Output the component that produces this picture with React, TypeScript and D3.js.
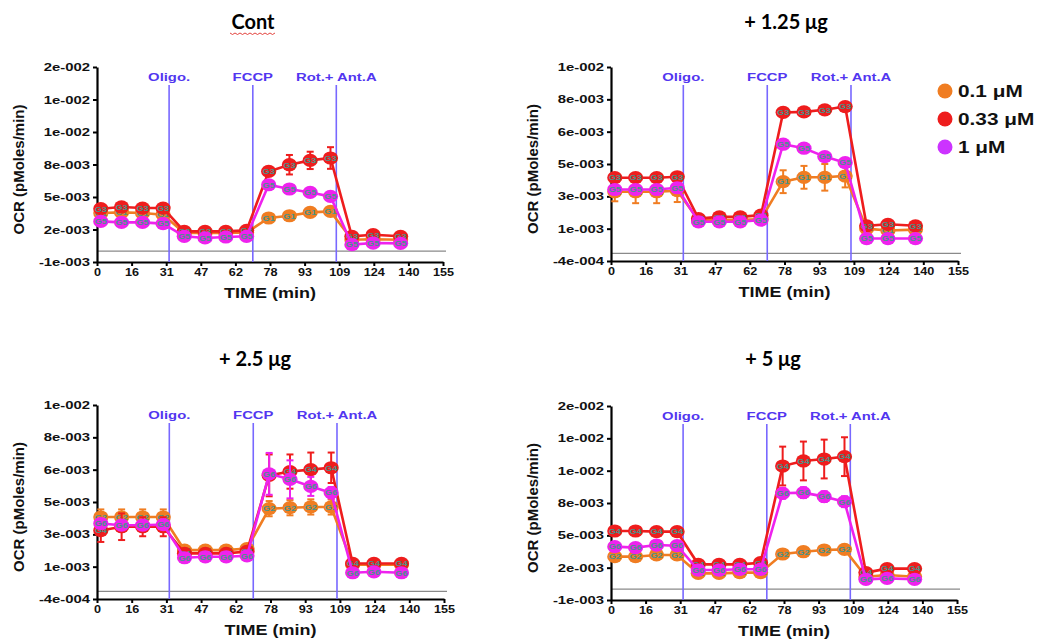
import * as d3 from 'd3'
import { useEffect, useRef } from 'react'

// measurement times (min), same for every panel
const times = [1.7, 11, 20.4, 29.6, 39.1, 48.4, 57.7, 67, 76.9, 86.2, 95.5, 104.6, 114.2, 123.7, 136]
const xTickLabels = ['0', '16', '31', '47', '62', '78', '93', '109', '124', '140', '155']
const injectionNames = ['Oligo.', 'FCCP', 'Rot.+ Ant.A']
const injectionTimes = [32.3, 69.8, 107.2]

const seriesNames = ['0.1 μM', '0.33 μM', '1 μM']
const seriesColors = ['#f07d22', '#ee1d1d', '#ee22ee']
const legendColors = ['#f07d22', '#ee1d1d', '#cc33ff']

const titles = ['Cont', '+ 1.25 μg', '+ 2.5 μg', '+ 5 μg']
const groupTags = [['G1', 'G3', 'G5'], ['G1', 'G3', 'G5'], ['G2', 'G4', 'G6'], ['G2', 'G4', 'G6']]

// y axes (the labels are what the software printed, not nice numbers)
const yMins = [-0.001, -0.0004, -0.0004, -0.001]
const ySteps = [0.003, 0.0017, 0.0017, 0.003]
const yTickLabelsA = ['-1e-003', '2e-003', '5e-003', '8e-003', '1e-002', '1e-002', '2e-002']
const yTickLabelsB = ['-4e-004', '1e-003', '3e-003', '5e-003', '6e-003', '8e-003', '1e-002']
const yTickLabels = [yTickLabelsA, yTickLabelsB, yTickLabelsB, yTickLabelsA]

// Cont
const contLow = [0.00352, 0.00358, 0.00352, 0.00337, 0.00168, 0.00168, 0.00168, 0.00172, 0.00306, 0.00327, 0.00358, 0.00367, 0.00106, 0.0011, 0.00106]
const contLowErr = [0.0002, 0.0002, 0.0002, 0.0002, 0.0001, 0.0001, 0.0001, 0.0001, 0.0002, 0.0002, 0.0002, 0.0002, 0.0001, 0.0001, 0.0001]
const contMid = [0.00392, 0.00408, 0.00398, 0.00398, 0.00183, 0.00183, 0.00183, 0.00192, 0.00736, 0.00798, 0.00838, 0.0086, 0.00137, 0.00152, 0.00137]
const contMidErr = [0.0002, 0.0002, 0.0002, 0.0002, 0.0001, 0.0001, 0.0001, 0.0001, 0.0003, 0.0009, 0.0008, 0.001, 0.0001, 0.0001, 0.0001]
const contHigh = [0.00275, 0.00266, 0.00266, 0.00254, 0.00137, 0.00122, 0.00131, 0.00137, 0.00613, 0.00574, 0.00542, 0.00506, 0.0006, 0.00075, 0.00072]
const contHighErr = [0.0002, 0.0002, 0.0002, 0.0002, 0.0001, 0.0001, 0.0001, 0.0001, 0.0002, 0.0002, 0.0002, 0.0002, 0.0001, 0.0001, 0.0001]

// + 1.25 ug
const p125Low = [0.00324, 0.00324, 0.00324, 0.0033, 0.00175, 0.00175, 0.00175, 0.0018, 0.00377, 0.004, 0.004, 0.00407, 0.0013, 0.0012, 0.00125]
const p125LowErr = [0.0005, 0.0006, 0.0006, 0.0006, 0.0001, 0.0001, 0.0001, 0.0001, 0.0006, 0.0006, 0.0007, 0.0006, 0.0001, 0.0001, 0.0001]
const p125Mid = [0.00398, 0.00398, 0.00398, 0.00403, 0.00183, 0.00192, 0.00192, 0.00201, 0.00741, 0.00744, 0.00755, 0.00772, 0.00145, 0.00153, 0.00145]
const p125MidErr = [0.0001, 0.0001, 0.0001, 0.0001, 0.0001, 0.0001, 0.0001, 0.0001, 0.0002, 0.0001, 0.0002, 0.0002, 0.0001, 0.0001, 0.0001]
const p125High = [0.00336, 0.00336, 0.00336, 0.00345, 0.00166, 0.00166, 0.00166, 0.00175, 0.00574, 0.00553, 0.00509, 0.00477, 0.00078, 0.00078, 0.00078]
const p125HighErr = [0.0002, 0.0002, 0.0002, 0.0002, 0.0001, 0.0001, 0.0001, 0.0001, 0.0002, 0.0001, 0.0001, 0.0001, 0.0001, 0.0001, 0.0001]

// + 2.5 ug
const p25Low = [0.00391, 0.00391, 0.00391, 0.00391, 0.00217, 0.00217, 0.00217, 0.00225, 0.00435, 0.0044, 0.00444, 0.00444, 0.0014, 0.0014, 0.0014]
const p25LowErr = [0.0004, 0.0004, 0.0004, 0.0004, 0.0001, 0.0001, 0.0001, 0.0001, 0.0004, 0.0004, 0.0004, 0.0004, 0.0001, 0.0001, 0.0001]
const p25Mid = [0.0032, 0.0034, 0.0034, 0.0034, 0.002, 0.002, 0.002, 0.0021, 0.0061, 0.0063, 0.0064, 0.0065, 0.00147, 0.00147, 0.00147]
const p25MidErr = [0.0006, 0.0007, 0.0005, 0.0005, 0.0001, 0.0001, 0.0001, 0.0001, 0.0011, 0.0009, 0.0009, 0.0008, 0.0001, 0.0001, 0.0001]
const p25High = [0.00357, 0.00348, 0.00348, 0.00351, 0.00177, 0.00182, 0.00182, 0.00187, 0.00618, 0.00589, 0.00552, 0.00519, 0.00098, 0.00103, 0.00098]
const p25HighErr = [0.0002, 0.0002, 0.0002, 0.0002, 0.0001, 0.0001, 0.0001, 0.0001, 0.0011, 0.001, 0.0005, 0.0003, 0.0001, 0.0001, 0.0001]

// + 5 ug
const p5Low = [0.00302, 0.00302, 0.00318, 0.00318, 0.00147, 0.00147, 0.00154, 0.00154, 0.00327, 0.00348, 0.00364, 0.0037, 0.00116, 0.00132, 0.00116]
const p5LowErr = [0.0004, 0.0004, 0.0004, 0.0004, 0.0001, 0.0001, 0.0001, 0.0001, 0.0002, 0.0002, 0.0002, 0.0002, 0.0001, 0.0001, 0.0001]
const p5Mid = [0.0054, 0.0054, 0.00534, 0.00534, 0.00231, 0.00231, 0.00231, 0.00246, 0.01143, 0.0119, 0.01208, 0.0123, 0.00154, 0.00191, 0.00191]
const p5MidErr = [0.0002, 0.0002, 0.0002, 0.0002, 0.0001, 0.0001, 0.0001, 0.0001, 0.0018, 0.0018, 0.0018, 0.0018, 0.0001, 0.0001, 0.0001]
const p5High = [0.00395, 0.00386, 0.0041, 0.00404, 0.00178, 0.00178, 0.00185, 0.00185, 0.0089, 0.00896, 0.00859, 0.00812, 0.00092, 0.00101, 0.00092]
const p5HighErr = [0.0002, 0.0002, 0.0002, 0.0002, 0.0001, 0.0001, 0.0001, 0.0001, 0.0005, 0.0005, 0.0005, 0.0005, 0.0001, 0.0001, 0.0001]

const panelValues = [
  [contLow, contMid, contHigh],
  [p125Low, p125Mid, p125High],
  [p25Low, p25Mid, p25High],
  [p5Low, p5Mid, p5High],
]
const panelErrors = [
  [contLowErr, contMidErr, contHighErr],
  [p125LowErr, p125MidErr, p125HighErr],
  [p25LowErr, p25MidErr, p25HighErr],
  [p5LowErr, p5MidErr, p5HighErr],
]

// where each panel sits on the page
const layout = [
  { left: 97, right: 443, top: 67, bottom: 262, titleX: 253, titleY: 29 },
  { left: 611, right: 958, top: 67, bottom: 261, titleX: 786, titleY: 29 },
  { left: 97, right: 444, top: 405, bottom: 599, titleX: 255, titleY: 366 },
  { left: 611, right: 957, top: 406, bottom: 600, titleX: 773, titleY: 366 },
]

const ARIAL = '"Liberation Sans", Arial, sans-serif'

export default function App() {
  const ref = useRef<SVGSVGElement>(null)

  useEffect(() => {
    const svg = d3.select(ref.current)
    svg.selectAll('*').remove()

    layout.forEach((L, p) => {
      const g = svg.append('g')
      const x = d3.scaleLinear().domain([0, 155]).range([L.left, L.right])
      const yTicks = d3.range(7).map((i) => yMins[p] + i * ySteps[p])
      const y = d3.scaleLinear().domain([yTicks[0], yTicks[6]]).range([L.bottom, L.top])

      // title
      g.append('text')
        .attr('x', L.titleX).attr('y', L.titleY)
        .attr('text-anchor', 'middle')
        .style('font-family', 'Lato, "Open Sans", sans-serif')
        .style('font-weight', 'bold').style('font-size', '20px')
        .text(titles[p])
      if (p === 0) {
        // spell-check squiggle under "Cont"
        const pts: [number, number][] = d3.range(0, 46, 2.5).map((d, i) => [L.titleX - 23 + d, L.titleY + 4 + (i % 2 ? 1.5 : 0)])
        g.append('path').attr('d', d3.line()(pts)).attr('fill', 'none').attr('stroke', '#e0302a').attr('stroke-width', 0.9)
      }

      // zero line
      g.append('line')
        .attr('x1', x(0)).attr('x2', x(155) + 3)
        .attr('y1', y(0)).attr('y2', y(0))
        .attr('stroke', '#8a8a8a').attr('stroke-width', 1.3)

      // axes
      const yAxis = g.append('g')
        .attr('transform', `translate(${L.left},0)`)
        .call(d3.axisLeft(y).tickValues(yTicks).tickFormat((_d, i) => yTickLabels[p][i]).tickSize(4).tickPadding(3).tickSizeOuter(0))
      const xAxis = g.append('g')
        .attr('transform', `translate(0,${L.bottom})`)
        .call(d3.axisBottom(x).tickValues(d3.range(11).map((i) => i * 15.5)).tickFormat((_d, i) => xTickLabels[i]).tickSize(4).tickPadding(2).tickSizeOuter(0))
      ;[yAxis, xAxis].forEach((a) => {
        a.select('.domain').attr('stroke', '#000').attr('stroke-width', 2.2)
        a.selectAll('.tick line').attr('stroke', '#000').attr('stroke-width', 2)
        a.selectAll('.tick text')
          .attr('fill', '#111')
          .style('font-family', ARIAL).style('font-weight', 'bold').style('font-size', '11px')
      })
      yAxis.selectAll('.tick text').attr('x', -7 / 1.35).attr('transform', 'scale(1.35,1)')
      xAxis.selectAll('.tick text').attr('transform', 'scale(1.15,1)')

      g.append('text')
        .attr('transform', `translate(${(L.left + L.right) / 2},${L.bottom + 36}) scale(1.2,1)`)
        .attr('text-anchor', 'middle')
        .style('font-family', ARIAL).style('font-weight', 'bold').style('font-size', '15px')
        .attr('fill', '#111')
        .text('TIME (min)')
      g.append('text')
        .attr('transform', `translate(${L.left - 73},${(L.top + L.bottom) / 2 + 5}) rotate(-90)`)
        .attr('text-anchor', 'middle')
        .style('font-family', ARIAL).style('font-weight', 'bold').style('font-size', '15px')
        .attr('fill', '#111')
        .text('OCR (pMoles/min)')

      // injection markers
      injectionTimes.forEach((t, i) => {
        g.append('line')
          .attr('x1', x(t)).attr('x2', x(t))
          .attr('y1', L.top + 18).attr('y2', L.bottom)
          .attr('stroke', '#7868ff').attr('stroke-width', 1.6)
        g.append('text')
          .attr('transform', `translate(${x(t)},${L.top + 14}) scale(1.35,1)`)
          .attr('text-anchor', 'middle')
          .style('font-family', ARIAL).style('font-weight', 'bold').style('font-size', '11px')
          .attr('fill', '#5236f0')
          .text(injectionNames[i])
      })

      // series
      const line = d3.line<number>().x((_d, i) => x(times[i])).y((d) => y(d))
      panelValues[p].forEach((vals, s) => {
        const col = seriesColors[s]
        const errs = panelErrors[p][s]
        const sg = g.append('g')
        sg.append('path').attr('d', line(vals)).attr('fill', 'none').attr('stroke', col).attr('stroke-width', 2.6)
        const eb = sg.selectAll('.eb').data(vals).join('g').attr('class', 'eb')
        eb.append('line')
          .attr('x1', (_d, i) => x(times[i])).attr('x2', (_d, i) => x(times[i]))
          .attr('y1', (d, i) => y(d - errs[i])).attr('y2', (d, i) => y(d + errs[i]))
          .attr('stroke', col).attr('stroke-width', 2)
        ;[-1, 1].forEach((sign) => {
          eb.append('line')
            .attr('x1', (_d, i) => x(times[i]) - 3.5).attr('x2', (_d, i) => x(times[i]) + 3.5)
            .attr('y1', (d, i) => y(d + sign * errs[i])).attr('y2', (d, i) => y(d + sign * errs[i]))
            .attr('stroke', col).attr('stroke-width', 2)
        })
        sg.selectAll('ellipse').data(vals).join('ellipse')
          .attr('cx', (_d, i) => x(times[i])).attr('cy', (d) => y(d))
          .attr('rx', 7.6).attr('ry', 6.6)
          .attr('fill', col)
        sg.selectAll('.tag').data(vals).join('text').attr('class', 'tag')
          .attr('transform', (d, i) => `translate(${x(times[i])},${y(d) + 2.8}) scale(1.15,1)`)
          .attr('text-anchor', 'middle')
          .style('font-family', ARIAL).style('font-weight', 'bold').style('font-size', '8px')
          .attr('fill', '#46928a')
          .text(groupTags[p][s])
      })
    })

    // legend (right of the second panel)
    const lg = svg.append('g')
    seriesNames.forEach((name, i) => {
      const cy = 91 + i * 28
      lg.append('circle').attr('cx', 945).attr('cy', cy).attr('r', 7.5).attr('fill', legendColors[i])
      lg.append('text')
        .attr('transform', `translate(958,${cy + 6}) scale(1.3,1)`)
        .style('font-family', ARIAL).style('font-weight', 'bold').style('font-size', '16px')
        .attr('fill', '#111')
        .text(name)
    })
  }, [])

  return (
    <svg
      ref={ref}
      width={1042}
      height={640}
      style={{ position: 'absolute', left: 0, top: 0, background: '#fff' }}
    />
  )
}
